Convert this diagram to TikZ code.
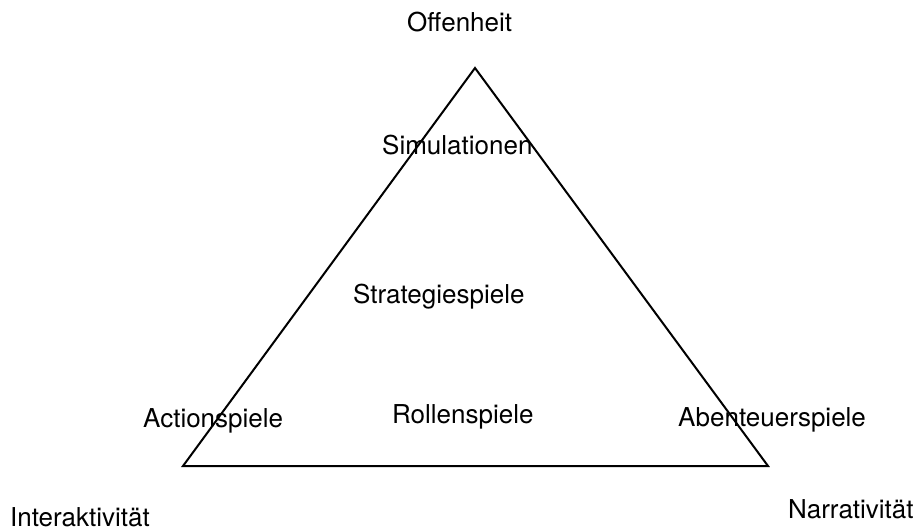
\documentclass[tikz,border=0pt]{standalone}
\usepackage{fontspec}
\setmainfont{TeX Gyre Heros}
\usepackage{tikz}
\usetikzlibrary{positioning}

\begin{document}
\begin{tikzpicture}[
    x=1pt, y=-1pt,
    edge/.style={draw, line width=2pt, line join=miter},
    pole/.style={font=\fontsize{26pt}{31pt}\selectfont, inner sep=0pt, anchor=base west},
    genre/.style={font=\fontsize{26pt}{31pt}\selectfont, inner sep=0pt, anchor=base west}
]
\useasboundingbox (0,0) rectangle (918,532);
% corners of the triangle
\coordinate (apex) at (475,68);
\coordinate (left) at (183,466);
\coordinate (right) at (768,466);
\draw[edge] (apex) -- (left) -- (right) -- cycle;
% the three poles
\node[pole] (offen) at (407,32) {Offenheit};
\node[pole] (inter) at (10,526) {Interaktivität};
\node[pole] (narr) at (788,518) {Narrativität};
% genres
\node[genre] (sim) at (382,154) {Simulationen};
\node[genre] (strat) at (353,303) {Strategiespiele};
\node[genre] (action) at (143,427) {Actionspiele};
\node[genre] (rolle) at (392,423) {Rollenspiele};
\node[genre] (abent) at (678,426) {Abenteuerspiele};
\end{tikzpicture}
\end{document}
